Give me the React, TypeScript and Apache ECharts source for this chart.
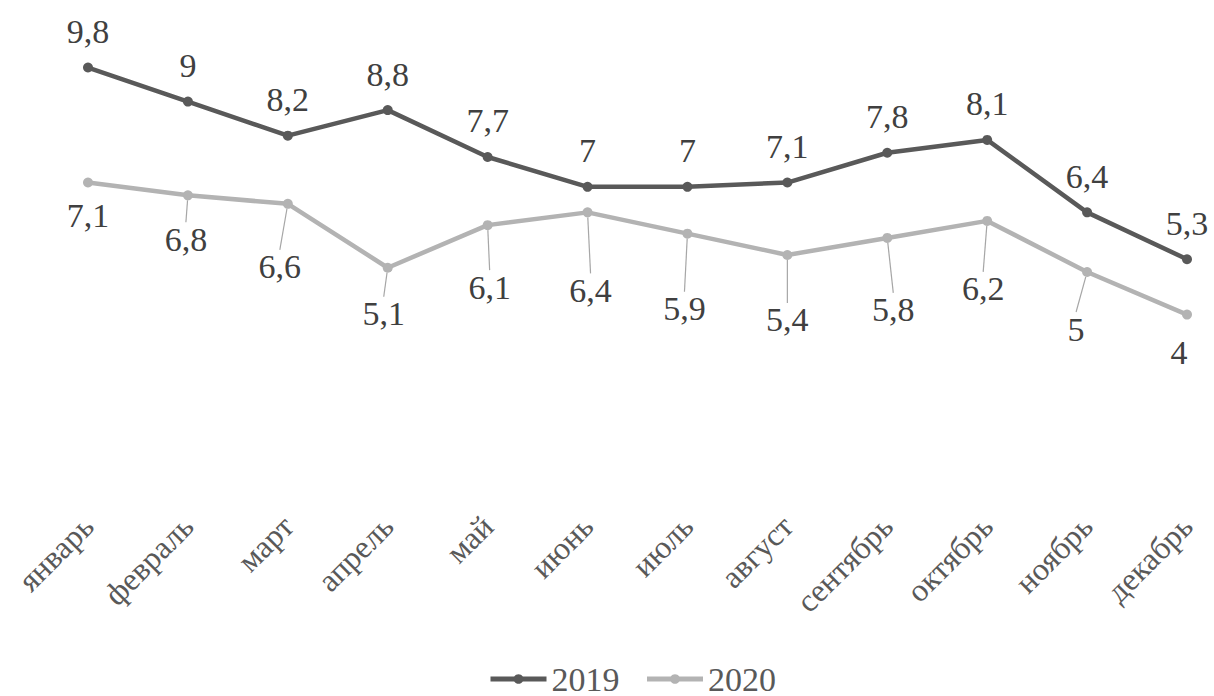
import React, { useEffect, useRef } from "react";
import * as echarts from "echarts";

const months = ["январь", "февраль", "март", "апрель", "май", "июнь", "июль", "август", "сентябрь", "октябрь", "ноябрь", "декабрь"];
const values2019 = [9.8, 9, 8.2, 8.8, 7.7, 7, 7, 7.1, 7.8, 8.1, 6.4, 5.3];
const values2020 = [7.1, 6.8, 6.6, 5.1, 6.1, 6.4, 5.9, 5.4, 5.8, 6.2, 5, 4];

// manual label nudges for 2020 labels (layout only)
const labelDx2020 = [0, -2, -8, -4, 2, 3, -3, 0, 6, -4, -11, -8];
const labelDy2020 = [11, 22, 41, 24, 40, 56, 53, 43, 50, 46, 35, 16];
const guideShown2020 = [false, true, true, true, true, true, true, true, true, true, true, false];

const FONT = "Liberation Serif";
const C2019 = "#595959";
const C2020 = "#b3b3b3";

const fmt = (v: number) => String(v).replace(".", ",");

export default function App() {
  const ref = useRef<HTMLDivElement>(null);
  useEffect(() => {
    if (!ref.current) return;
    const chart = echarts.init(ref.current, null, { renderer: "svg" });
    chart.setOption({
      animation: false,
      backgroundColor: "#ffffff",
      textStyle: { fontFamily: FONT },
      grid: {
        left: 88,
        right: 27,
        top: 59,
        bottom: 211,
        containLabel: false,
        outerBoundsMode: "none",
      },
      legend: {
        left: 483,
        top: 657,
        itemWidth: 56,
        itemHeight: 12,
        itemGap: 25,
        lineStyle: { width: 5 },
        textStyle: { fontFamily: FONT, fontSize: 34, color: "#595959" },
        data: ["2019", "2020"],
      },
      xAxis: {
        type: "category",
        data: months,
        boundaryGap: false,
        axisLine: { show: false },
        axisTick: { show: false },
        splitLine: { show: false },
        axisLabel: {
          rotate: 45,
          margin: 36,
          interval: 0,
          fontFamily: FONT,
          fontSize: 32,
          color: "#595959",
        },
      },
      yAxis: {
        type: "value",
        min: 0,
        max: 10,
        show: false,
        splitLine: { show: false },
      },
      series: [
        {
          name: "2019",
          type: "line",
          data: values2019,
          symbol: "circle",
          symbolSize: 10,
          lineStyle: { color: C2019, width: 4.5 },
          itemStyle: { color: C2019 },
          label: {
            show: true,
            position: "top",
            distance: 14,
            fontFamily: FONT,
            fontSize: 34,
            color: "#404040",
            formatter: (p: any) => fmt(p.value),
          },
        },
        {
          name: "2020",
          type: "line",
          data: values2020.map((v, i) => ({
            value: v,
            labelLine: { show: guideShown2020[i] },
          })),
          symbol: "circle",
          symbolSize: 10,
          lineStyle: { color: C2020, width: 4.5 },
          itemStyle: { color: C2020 },
          label: {
            show: true,
            position: "bottom",
            distance: 0,
            fontFamily: FONT,
            fontSize: 34,
            color: "#404040",
            formatter: (p: any) => fmt(p.value),
          },
          labelLine: {
            show: true,
            smooth: false,
            lineStyle: { color: "#a6a6a6", width: 1.2 },
          },
          labelLayout: (params: any) => ({
            dx: labelDx2020[params.dataIndex],
            dy: labelDy2020[params.dataIndex],
          }),
        },
      ],
    });
    return () => chart.dispose();
  }, []);
  return (
    <div
      ref={ref}
      style={{ position: "fixed", left: 0, top: 0, width: 1214, height: 696, background: "#fff" }}
    />
  );
}
